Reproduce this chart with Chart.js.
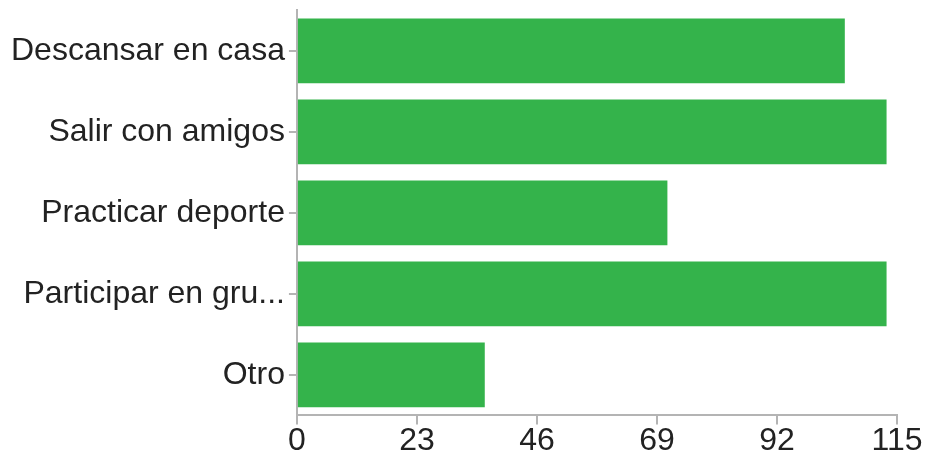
<!DOCTYPE html>
<html>
<head>
<meta charset="utf-8">
<script src="https://cdn.jsdelivr.net/npm/chart.js@4"></script>
<style>
  html, body { margin: 0; padding: 0; background: #fff; }
  #wrap { width: 928px; height: 460px; }
</style>
</head>
<body>
<div id="wrap"><canvas id="chart"></canvas></div>
<script>
// Categories and counts
const categories = ['Descansar en casa', 'Salir con amigos', 'Practicar deporte', 'Participar en gru...', 'Otro'];
const counts = [105, 113, 71, 113, 36];
const xTicks = [0, 23, 46, 69, 92, 115];

const axisColor = '#b4b4b4';
const textColor = '#222222';
const family = "'Liberation Sans', Arial, sans-serif";

new Chart(document.getElementById('chart').getContext('2d'), {
    type: 'bar',
    data: {
        labels: categories,
        datasets: [{
            data: counts,
            backgroundColor: '#34b34b',
            borderWidth: 0,
            barPercentage: 0.8,
            categoryPercentage: 1.0
        }]
    },
    options: {
        indexAxis: 'y',
        responsive: true,
        maintainAspectRatio: false,
        animation: false,
        layout: { padding: { top: 7, right: 31, left: 7, bottom: 2 } },
        plugins: {
            legend: { display: false },
            tooltip: { enabled: false }
        },
        scales: {
            x: {
                min: 0,
                max: 115,
                afterBuildTicks: axis => { axis.ticks = xTicks.map(v => ({ value: v })); },
                ticks: { color: textColor, font: { family, size: 32, lineHeight: 0.8 }, padding: 4 },
                grid: { drawOnChartArea: false, tickLength: 9, color: axisColor, lineWidth: 2 },
                border: { color: axisColor, width: 2 }
            },
            y: {
                // small lineHeight keeps the top label from pushing the plot down
                ticks: { color: textColor, font: { family, size: 32, lineHeight: 0.4 }, padding: 4 },
                grid: { drawOnChartArea: false, offset: false, tickLength: 8, color: axisColor, lineWidth: 2 },
                border: { color: axisColor, width: 2 }
            }
        }
    }
});
</script>
</body>
</html>
